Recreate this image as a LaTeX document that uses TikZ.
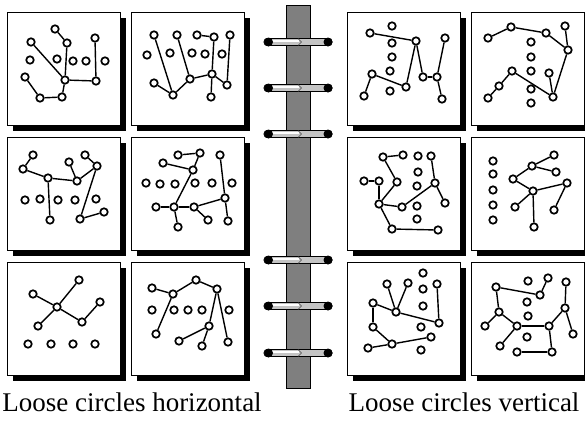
\documentclass[tikz,border=0pt]{standalone}
\usepackage{fontspec}
\setmainfont{Liberation Serif}
\newfontfamily\capfont{Liberation Serif}
\usepackage{tikz}
\usepackage{xcolor}
\definecolor{cSpine}{HTML}{7F7F7F}
\definecolor{cRing}{HTML}{C4C4C4}
\definecolor{cInk}{HTML}{000000}
\tikzset{
  frame/.style  ={draw=cInk,fill=white,line width=0.9pt},
  drop/.style   ={fill=cInk},
  dot/.style    ={circle,draw=cInk,fill=white,line width=1.7pt,
                  minimum size=7.5pt,inner sep=0pt},
  ln/.style     ={draw=cInk,line width=1.4pt},
  spine/.style  ={draw=cInk,fill=cSpine,line width=0.8pt},
  ringbar/.style={draw=cInk,fill=cRing,line width=0.7pt,rounded corners=3pt},
  lbl/.style    ={font=\capfont\fontsize{27}{30}\selectfont,anchor=base,inner sep=0pt},
}

\begin{document}
\begin{tikzpicture}[x=1pt,y=-1pt]
\fill[white] (0,0) rectangle (585,421);
\useasboundingbox (0,0) rectangle (585,421);

% panels with drop shadows
\foreach \px/\py in {7/12,131/12,347/12,471/12,
                     7/137,131/137,347/137,471/137,
                     7/262,131/262,347/262,471/262}{
  \fill[drop] (\px+6,\py+6) rectangle ++(113,113);
  \draw[frame] (\px,\py) rectangle ++(113,113);
}

% binder spine and rings
\draw[spine] (286,5) rectangle (310,388);
\foreach \ry in {42,88,134,260,306,353}{
  \draw[ringbar] (264,\ry-3.5) rectangle (332,\ry+3.5);
  \draw[white,line width=1.6pt] (272,\ry-1) -- (299,\ry-1);
  \draw[cInk!70,line width=0.6pt] (298,\ry-3.5) -- (301.5,\ry) -- (298,\ry+3.5);
  \fill[cInk] (268.5,\ry) circle (4.5);
  \fill[cInk] (328,\ry) circle (4.5);
}

% top row, left pair
\foreach \n/\x/\y in {1/55/29,2/67/43,3/31/42,4/95/38,5/30/60,6/57/59,7/73/61,
                      8/86/61,9/105/61,10/25/77,11/65/80,12/96/81,13/40/98,14/62/97}
  \node[dot] (a\n) at (\x,\y) {};
\foreach \s/\t in {1/2,3/11,2/11,4/12,11/12,10/13,13/14,14/11}
  \draw[ln] (a\s) -- (a\t);

\foreach \n/\x/\y in {1/154/35,2/177/35,3/197/35,4/214/37,5/230/35,6/147/55,
                      7/170/53,8/192/53,9/205/54,10/222/54,11/154/83,12/190/79,
                      13/212/74,14/227/85,15/173/95,16/211/97}
  \node[dot] (b\n) at (\x,\y) {};
\foreach \s/\t in {1/15,2/12,3/4,4/13,5/14,11/15,15/12,12/13,13/14,13/16}
  \draw[ln] (b\s) -- (b\t);

% top row, right pair
\foreach \n/\x/\y in {1/392/26,2/370/33,3/416/41,4/445/38,5/392/43,6/392/57,
                      7/390/71,8/372/74,9/423/77,10/437/77,11/406/87,12/390/91,
                      13/364/96,14/442/99}
  \node[dot] (c\n) at (\x,\y) {};
\foreach \s/\t in {2/3,3/11,3/9,9/10,10/4,10/14,8/11,8/13}
  \draw[ln] (c\s) -- (c\t);

\foreach \n/\x/\y in {1/511/27,2/488/38,3/546/33,4/565/26,5/531/42,6/568/50,
                      7/531/57,8/512/71,9/531/71,10/549/73,11/499/86,12/531/89,
                      13/488/98,14/553/97,15/531/103}
  \node[dot] (d\n) at (\x,\y) {};
\foreach \s/\t in {2/1,1/3,3/6,4/6,6/14,10/14,8/14,8/11,11/13}
  \draw[ln] (d\s) -- (d\t);

% middle row, left pair
\foreach \n/\x/\y in {1/33/155,2/23/169,3/48/178,4/69/162,5/85/155,6/97/166,
                      7/77/181,8/25/200,9/40/199,10/58/200,11/75/200,12/96/199,
                      13/50/220,14/80/219,15/104/212}
  \node[dot] (e\n) at (\x,\y) {};
\foreach \s/\t in {1/2,2/3,3/7,3/13,4/7,7/6,5/6,6/14,14/15}
  \draw[ln] (e\s) -- (e\t);

\foreach \n/\x/\y in {1/178/155,2/200/153,3/220/155,4/163/163,5/193/170,
                      6/146/183,7/160/184,8/175/184,9/195/183,10/212/183,
                      11/232/183,12/225/198,13/156/207,14/174/207,15/194/207,
                      16/208/220,17/228/221,18/178/227}
  \node[dot] (f\n) at (\x,\y) {};
\foreach \s/\t in {1/2,2/5,4/5,5/14,3/12,12/15,12/17,13/14,14/15,14/18,15/16}
  \draw[ln] (f\s) -- (f\t);

% middle row, right pair
\foreach \n/\x/\y in {1/383/157,2/403/155,3/418/156,4/431/156,5/418/172,
                      6/364/181,7/379/181,8/397/182,9/417/186,10/435/183,
                      11/379/204,12/402/207,13/417/206,14/445/203,15/417/219,
                      16/392/229,17/438/230}
  \node[dot] (g\n) at (\x,\y) {};
\foreach \s/\t in {1/2,1/8,8/11,6/7,7/11,4/10,10/14,10/12,11/12,11/16,16/17}
  \draw[ln] (g\s) -- (g\t);

\foreach \n/\x/\y in {1/493/161,2/493/174,3/493/190,4/493/205,5/493/220,
                      6/554/155,7/532/166,8/556/172,9/513/179,10/567/183,
                      11/533/191,12/515/207,13/554/210,14/534/227}
  \node[dot] (h\n) at (\x,\y) {};
\foreach \s/\t in {7/6,7/8,7/9,9/11,11/10,10/13,11/12,11/14}
  \draw[ln] (h\s) -- (h\t);

% bottom row, left pair
\foreach \n/\x/\y in {1/79/280,2/33/294,3/57/307,4/100/302,5/82/322,6/38/326,
                      7/28/344,8/51/344,9/73/344,10/95/344}
  \node[dot] (i\n) at (\x,\y) {};
\foreach \s/\t in {1/3,2/3,3/5,5/4,3/6}
  \draw[ln] (i\s) -- (i\t);

\foreach \n/\x/\y in {1/152/288,2/173/294,3/196/280,4/217/289,5/152/310,
                      6/174/310,7/188/310,8/202/310,9/229/310,10/209/326,
                      11/156/334,12/179/341,13/202/346,14/228/342}
  \node[dot] (j\n) at (\x,\y) {};
\foreach \s/\t in {1/2,2/3,3/4,2/11,4/10,4/14,10/12,10/13}
  \draw[ln] (j\s) -- (j\t);

% bottom row, right pair
\foreach \n/\x/\y in {1/423/273,2/387/284,3/408/283,4/437/284,5/423/289,
                      6/373/303,7/423/306,8/396/312,9/439/323,10/373/327,
                      11/421/327,12/431/337,13/392/344,14/368/348,15/421/350}
  \node[dot] (k\n) at (\x,\y) {};
\foreach \s/\t in {2/8,3/8,6/8,8/9,4/9,6/10,10/13,14/13,13/12}
  \draw[ln] (k\s) -- (k\t);

\foreach \n/\x/\y in {1/528/281,2/548/278,3/566/282,4/496/287,5/540/295,
                      6/527/302,7/565/308,8/499/312,9/528/316,10/485/326,
                      11/517/326,12/549/326,13/573/334,14/527/337,15/500/346,
                      16/517/352,17/552/352}
  \node[dot] (l\n) at (\x,\y) {};
\foreach \s/\t in {4/5,2/5,4/8,8/10,8/11,11/12,12/7,3/7,7/13,11/15,12/17,16/17}
  \draw[ln] (l\s) -- (l\t);

% captions
\node[lbl] (capH) at (132,411) {Loose circles horizontal};
\node[lbl] (capV) at (464,411) {Loose circles vertical};
\end{tikzpicture}
\end{document}
